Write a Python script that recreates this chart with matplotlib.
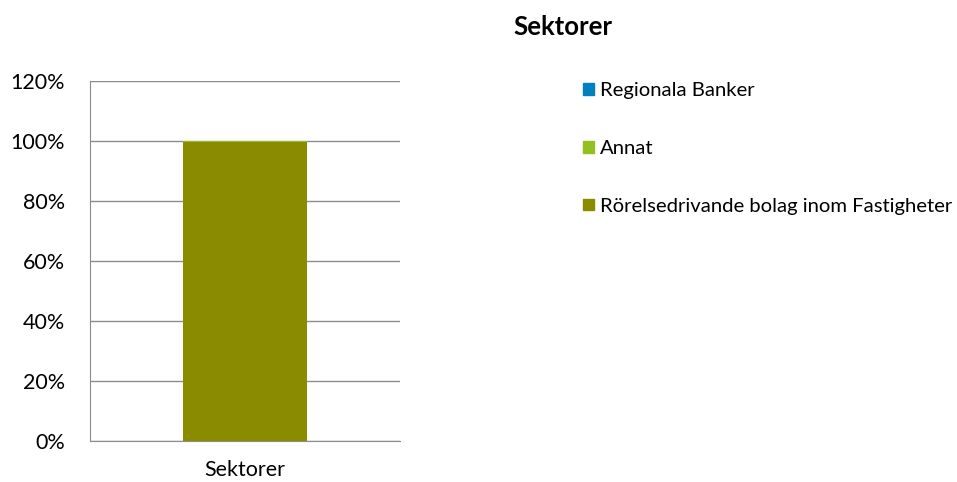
import numpy as np
import matplotlib.pyplot as plt
from matplotlib.patches import Patch
from matplotlib.ticker import PercentFormatter

plt.rcParams['font.family'] = ['Lato', 'DejaVu Sans']

categories = ['Sektorer']
# stacked shares, bottom to top
series_names = ['Rörelsedrivande bolag inom Fastigheter', 'Annat', 'Regionala Banker']
series_values = [[99.7], [0.3], [0.0]]
series_colors = ['#8b8b00', '#92c020', '#0080c0']

fig = plt.figure(figsize=(9.57, 4.82), dpi=100)
ax = fig.add_axes([0.094, 0.085, 0.324, 0.747])

x = np.arange(len(categories))
bottom = np.zeros(len(categories))
for name, vals, col in zip(series_names, series_values, series_colors):
    ax.bar(x, vals, width=0.4, bottom=bottom, color=col, label=name, zorder=3)
    bottom += np.array(vals)

ax.set_xlim(-0.5, 0.5)
ax.set_ylim(0, 120)
ax.set_yticks(np.arange(0, 121, 20))
ax.yaxis.set_major_formatter(PercentFormatter(decimals=0))
ax.set_xticks(x)
ax.set_xticklabels(categories)
ax.tick_params(axis='both', labelsize=15.5, colors='#000000', length=0)
ax.tick_params(axis='x', pad=14)
ax.tick_params(axis='y', pad=18)
ax.grid(axis='y', color='#8c8c8c', linewidth=1.0, zorder=0)
for side in ['top', 'right']:
    ax.spines[side].set_visible(False)
for side in ['left', 'bottom']:
    ax.spines[side].set_color('#8c8c8c')

fig.text(0.588, 0.945, 'Sektorer', fontsize=18.5, fontweight='bold', ha='center', va='center')

handles = [Patch(color=c) for c in series_colors[::-1]]
fig.legend(handles, series_names[::-1], loc='upper left', bbox_to_anchor=(0.599, 0.85),
           frameon=False, fontsize=14.6, handlelength=0.5, handleheight=0.5,
           handletextpad=0.3, labelspacing=2.0, borderpad=0)

fig.savefig('out.png', dpi=100)
